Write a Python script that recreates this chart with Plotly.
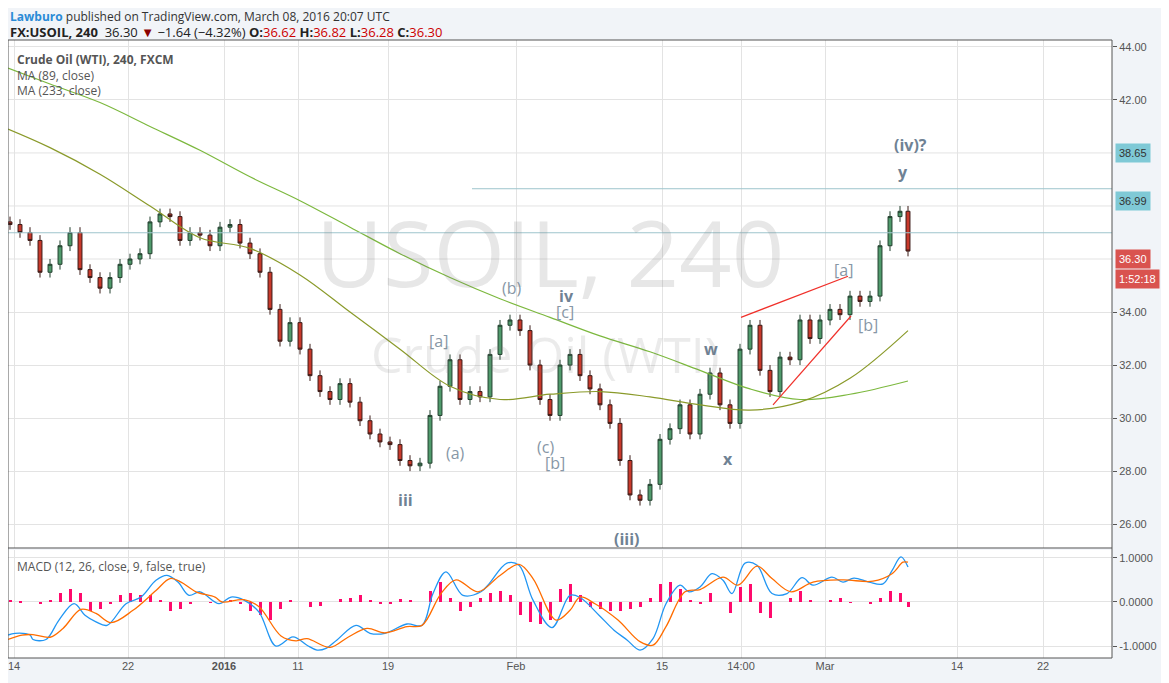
import numpy as np
import plotly.graph_objects as go

# candles, roughly one every 10 px of chart time
bar_x = [10, 20, 30, 40, 50, 60, 70, 80, 90, 100, 110, 120, 130, 140, 150, 160, 170, 180, 190, 200,
         210, 220, 230, 240, 250, 260, 270, 280, 290, 300, 310, 320, 330, 340, 350, 360, 370, 380, 390, 400,
         410, 420, 430, 440, 450, 460, 470, 480, 490, 500, 510, 520, 530, 540, 550, 560, 570, 580, 590, 600,
         610, 620, 630, 640, 650, 660, 670, 680, 690, 700, 710, 720, 730, 740, 750, 760, 770, 780, 790, 800,
         810, 820, 830, 840, 850, 860, 870, 880, 890, 900, 908]
closes = [37.3, 37.0, 36.7, 35.5, 35.8, 36.5, 37.0, 35.6, 35.3, 34.9, 35.3, 35.8, 36.0, 36.2, 37.4, 37.7, 37.6, 36.7, 37.0, 36.9,
          36.5, 37.2, 37.3, 36.6, 36.2, 35.5, 34.1, 32.9, 33.6, 32.6, 31.6, 31.0, 30.7, 31.3, 30.6, 29.9, 29.4, 29.1, 29.0, 28.4,
          28.2, 28.3, 30.1, 31.2, 32.2, 30.7, 31.0, 30.8, 32.4, 33.5, 33.7, 33.3, 32.0, 30.7, 30.1, 32.0, 32.4, 31.6, 31.1, 30.5,
          29.8, 28.4, 27.1, 26.9, 27.5, 29.2, 29.6, 30.5, 29.4, 30.9, 31.7, 30.5, 29.8, 32.6, 33.5, 31.8, 31.0, 32.3, 32.2, 33.7,
          33.0, 33.7, 34.1, 33.9, 34.6, 34.4, 34.6, 36.5, 37.6, 37.8, 36.3]
first_open = 37.4

ma_x = [8, 50, 100, 150, 200, 250, 300, 350, 400, 450, 500, 550, 600, 650, 700, 750, 800, 850, 908]
ma233 = [43.2, 42.6, 41.9, 41.0, 40.1, 39.1, 38.2, 37.2, 36.2, 35.3, 34.5, 33.8, 33.1, 32.5, 31.8, 31.1, 30.7, 30.9, 31.4]
ma89 = [40.9, 40.2, 39.2, 38.0, 36.8, 36.4, 35.4, 34.0, 32.6, 31.2, 30.7, 30.9, 31.0, 30.8, 30.5, 30.3, 30.6, 31.5, 33.3]

macd_x = [8, 15, 30, 33, 46, 59, 74, 85, 96, 107, 126, 141, 156, 167, 178, 189, 200, 219, 231, 244,
          259, 276, 293, 307, 317, 326, 337, 356, 370, 385, 407, 422, 433, 446, 463, 481, 489, 507, 519, 533,
          552, 570, 580, 599, 614, 627, 640, 653, 666, 680, 689, 700, 712, 723, 732, 745, 757, 772, 787, 802,
          813, 832, 843, 854, 869, 883, 892, 901, 908]
macd = [-0.75, -0.71, -0.75, -0.85, -0.85, -0.41, -0.04, -0.30, -0.45, -0.53, -0.04, 0.11, 0.49, 0.60, 0.45, 0.15, 0.23, -0.04, 0.11, 0.04,
        -0.23, -1.00, -0.79, -0.98, -1.09, -1.05, -0.86, -0.53, -0.71, -0.71, -0.50, -0.53, 0.19, 0.68, 0.15, 0.23, 0.41, 0.88, 0.83, 0.04,
        -0.58, 0.15, 0.10, -0.30, -0.64, -0.86, -1.09, -0.83, -0.04, 0.38, 0.23, 0.34, 0.64, 0.49, 0.19, 0.88, 0.83, 0.19, 0.19, 0.55,
        0.38, 0.56, 0.45, 0.54, 0.45, 0.41, 0.71, 1.02, 0.79]

sig_x = [8, 22, 33, 50, 63, 81, 96, 111, 133, 156, 170, 181, 196, 215, 222, 244, 259, 281, 296, 307,
         330, 348, 367, 385, 407, 422, 441, 456, 478, 500, 519, 533, 556, 570, 580, 595, 618, 640, 653, 666,
         685, 700, 723, 738, 757, 772, 791, 813, 843, 873, 892, 903, 908]
signal = [-0.85, -0.75, -0.74, -0.80, -0.60, -0.17, -0.26, -0.47, -0.19, 0.26, 0.53, 0.45, 0.23, 0.11, 0.0, 0.05, -0.11, -0.77, -0.88, -0.83,
          -1.03, -0.80, -0.60, -0.70, -0.56, -0.53, 0.19, 0.50, 0.23, 0.60, 0.85, 0.53, -0.41, -0.19, 0.11, -0.04, -0.41, -0.90, -0.98, -0.56,
          0.23, 0.28, 0.56, 0.38, 0.81, 0.53, 0.23, 0.45, 0.50, 0.47, 0.64, 0.90, 0.90]

hist = [0.05, 0.03, 0.0, -0.05, 0.05, 0.2, 0.3, 0.2, -0.2, -0.15, -0.05, 0.15, 0.2, 0.15, 0.15, 0.05, -0.2, -0.15, -0.05, 0.0,
        -0.02, 0.0, 0.05, -0.05, -0.2, -0.3, -0.4, -0.15, 0.05, 0.0, -0.12, -0.08, 0.0, 0.08, 0.1, 0.15, 0.05, -0.05, -0.05, 0.08,
        0.05, 0.0, 0.25, 0.45, 0.1, -0.2, -0.1, 0.1, 0.2, 0.25, 0.15, -0.3, -0.45, -0.5, -0.4, 0.3, 0.4, 0.15, -0.1, -0.15,
        -0.2, -0.2, -0.15, -0.1, 0.1, 0.4, 0.45, 0.3, 0.05, -0.05, 0.2, 0.0, -0.25, 0.35, 0.4, -0.25, -0.35, 0.0, 0.1, 0.25,
        0.05, 0.0, 0.05, 0.1, -0.02, 0.0, -0.03, 0.1, 0.25, 0.2, -0.1]

tick_pos = [14, 128, 224, 298, 388, 516, 662, 741, 825, 957, 1043]
tick_text = ["14", "22", "<b>2016</b>", "11", "19", "Feb", "15", "14:00", "Mar", "14", "22"]

# elliott wave labels: (x, price, text, bold)
waves = [(910, 40.3, "(iv)?", True), (903, 39.3, "y", True), (843, 35.6, "[a]", False),
         (868, 33.5, "[b]", False), (512, 34.9, "(b)", False), (566, 34.6, "iv", True),
         (565, 34.0, "[c]", False), (438, 32.9, "[a]", False), (711, 32.6, "w", True),
         (455, 28.7, "(a)", False), (545, 28.9, "(c)", False), (555, 28.3, "[b]", False),
         (728, 28.45, "x", True), (405, 26.9, "iii", True), (627, 25.45, "(iii)", True)]

opens = [first_open] + closes[:-1]
highs = [max(o, c) + 0.2 for o, c in zip(opens, closes)]
lows = [min(o, c) - 0.2 for o, c in zip(opens, closes)]

fig = go.Figure()
fig.add_trace(go.Scatter(x=ma_x, y=ma233, mode='lines', line=dict(color='#7cb83e', width=1.2, shape='spline'),
                         hoverinfo='skip', yaxis='y'))
fig.add_trace(go.Scatter(x=ma_x, y=ma89, mode='lines', line=dict(color='#8a9a2a', width=1.2, shape='spline'),
                         hoverinfo='skip', yaxis='y'))
fig.add_trace(go.Candlestick(x=bar_x, open=opens, high=highs, low=lows, close=closes,
                             increasing=dict(fillcolor='#4f9a6b', line=dict(color='#23402f', width=1)),
                             decreasing=dict(fillcolor='#c8392b', line=dict(color='#3b1a16', width=1)),
                             whiskerwidth=0, yaxis='y'))
fig.add_trace(go.Bar(x=bar_x, y=hist, marker_color='#ff0a6c', marker_line_width=0, width=3, yaxis='y2'))
fig.add_trace(go.Scatter(x=macd_x, y=macd, mode='lines', line=dict(color='#2196f3', width=1.3, shape='spline'), yaxis='y2'))
fig.add_trace(go.Scatter(x=sig_x, y=signal, mode='lines', line=dict(color='#ff6d00', width=1.3, shape='spline'), yaxis='y2'))

shapes = [
    dict(type='line', xref='x', yref='y', x0=472, x1=1112, y0=38.65, y1=38.65, line=dict(color='#9ec4cc', width=1)),
    dict(type='line', xref='x', yref='y', x0=8, x1=1112, y0=36.99, y1=36.99, line=dict(color='#9ec4cc', width=1)),
    dict(type='line', xref='x', yref='y', x0=741, x1=848, y0=33.8, y1=35.35, line=dict(color='#f0302a', width=1.2)),
    dict(type='line', xref='x', yref='y', x0=773, x1=851, y0=30.5, y1=33.85, line=dict(color='#f0302a', width=1.2)),
    dict(type='rect', xref='paper', yref='paper', x0=0, x1=1, y0=0, y1=1, line=dict(color='#555', width=1)),
    dict(type='line', xref='paper', yref='paper', x0=0, x1=1, y0=0.178, y1=0.178, line=dict(color='#555', width=1)),
]

ann = []
for wx, wy, wt, wb in waves:
    ann.append(dict(x=wx, y=wy, xref='x', yref='y', text=f"<b>{wt}</b>" if wb else wt, showarrow=False,
                    font=dict(family='Open Sans', size=16, color='#6f8294' if wb else '#8797a6')))
ann += [
    dict(x=550, y=36.3, xref='x', yref='y', text="USOIL, 240", showarrow=False,
         font=dict(family='Open Sans', size=92, color='rgba(120,120,120,0.18)')),
    dict(x=545, y=32.4, xref='x', yref='y', text="Crude Oil (WTI)", showarrow=False,
         font=dict(family='Open Sans', size=50, color='rgba(120,120,120,0.15)')),
    dict(x=0.006, y=0.985, xref='paper', yref='paper', xanchor='left', yanchor='top', showarrow=False,
         text="<b>Crude Oil (WTI), 240, FXCM</b><br>MA (89, close)<br>MA (233, close)", align='left',
         font=dict(family='Open Sans', size=12, color='#555')),
    dict(x=0.006, y=0.165, xref='paper', yref='paper', xanchor='left', yanchor='top', showarrow=False,
         text="MACD (12, 26, close, 9, false, true)", font=dict(family='Open Sans', size=12, color='#555')),
    dict(x=0, y=1, xref='paper', yref='paper', xanchor='left', yanchor='bottom', yshift=13, showarrow=False,
         text="<span style='color:#2a8bd6'><b>Lawburo</b></span> published on TradingView.com, March 08, 2016 20:07 UTC",
         font=dict(family='Open Sans', size=12, color='#333')),
    dict(x=0, y=1, xref='paper', yref='paper', xanchor='left', yanchor='bottom', yshift=-3, showarrow=False,
         text="<b>FX:USOIL, 240</b>  36.30 <span style='color:#8b0000'>▼</span> −1.64 (−4.32%) <b>O:</b><span style='color:#c00'>36.62</span> "
              "<b>H:</b><span style='color:#c00'>36.82</span> <b>L:</b><span style='color:#c00'>36.28</span> <b>C:</b><span style='color:#c00'>36.30</span>",
         font=dict(family='Open Sans', size=13, color='#222')),
]
# price badges on the right axis
for by, bt, bc in [(40.0, "38.65", '#7fc9d6'), (38.2, "36.99", '#7fc9d6'), (36.0, "36.30", '#d9534f'), (35.25, "1:52:18", '#d9534f')]:
    ann.append(dict(x=1.0, y=by, xref='paper', yref='y', xanchor='left', xshift=3, showarrow=False, text=bt,
                    bgcolor=bc, borderpad=3, font=dict(family='Arial', size=11, color='#333' if bc == '#7fc9d6' else 'white')))

# page body adds 8 px on the left and top, so margins are trimmed to match
fig.update_layout(
    width=1169, height=683, margin=dict(l=0, r=65, t=32, b=33, autoexpand=False),
    paper_bgcolor='#f1f4f8', plot_bgcolor='white', showlegend=False,
    shapes=shapes, annotations=ann, bargap=0,
    xaxis=dict(range=[8, 1112], tickvals=tick_pos, ticktext=tick_text, showgrid=True, gridcolor='#e3e3e3',
               rangeslider=dict(visible=False), zeroline=False, tickfont=dict(family='Arial', size=11, color='#555'),
               ticks='', anchor='y2', ticklabeloverflow='allow'),
    yaxis=dict(domain=[0.178, 1], range=[25.1, 44.26], side='right', tickvals=[26, 28, 30, 32, 34, 42, 44],
               tickformat='.2f', gridcolor='#e3e3e3', zeroline=False, ticks='outside', ticklen=4, tickcolor='#555',
               tickfont=dict(family='Arial', size=11, color='#555')),
    yaxis2=dict(domain=[0, 0.175], range=[-1.27, 1.18], side='right', tickvals=[-1, 0, 1], ticktext=['-1.0000', '0.0000', '1.0000'],
                gridcolor='#e3e3e3', zeroline=False, ticks='outside', ticklen=4, tickcolor='#555',
                tickfont=dict(family='Arial', size=11, color='#555')),
)
for v in [36, 38, 40]:
    fig.add_shape(type='line', xref='x', yref='y', x0=8, x1=1112, y0=v, y1=v, line=dict(color='#e3e3e3', width=1), layer='below')

fig.write_html("out.html")
